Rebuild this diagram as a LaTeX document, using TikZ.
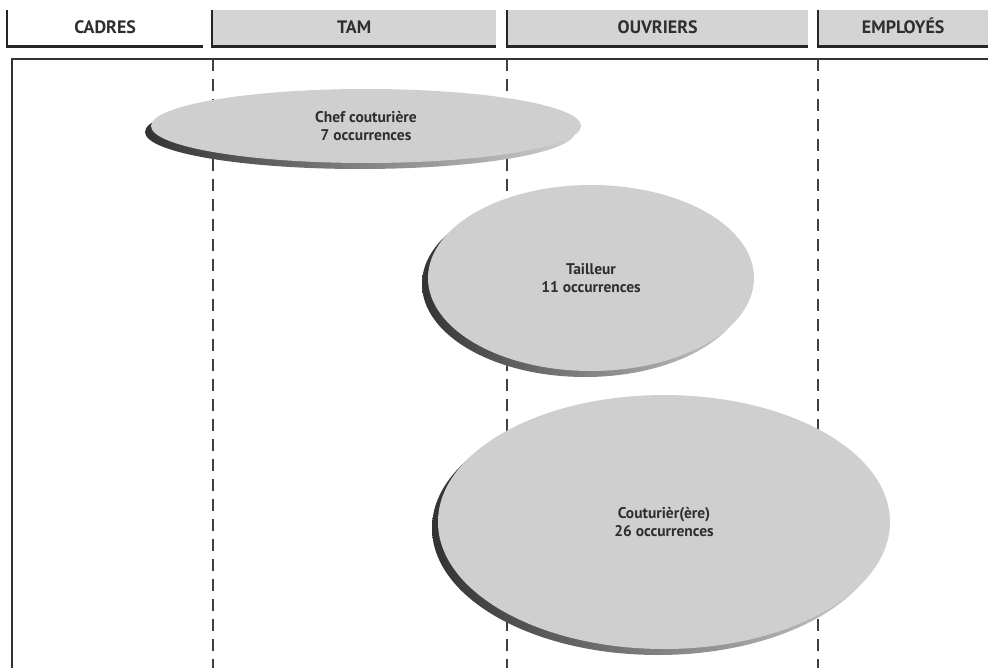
\documentclass[tikz,border=0pt]{standalone}
\usepackage{fontspec}
\setmainfont{PT Sans}
\usetikzlibrary{shapes.geometric,shadows,positioning}
\definecolor{hdrgray}{gray}{0.83}
\definecolor{ovalgray}{gray}{0.81}
\definecolor{txtgray}{gray}{0.18}
\tikzset{
    header/.style={
        anchor=north west,
        minimum height=36pt,
        inner sep=0pt,
        text height=13pt,
        text depth=2pt,
        font=\fontsize{18}{21}\selectfont\bfseries,
        text=txtgray
    },
    hdrfill/.style={
        header,
        fill=hdrgray
    },
    hdrline/.style={
        line width=2.6pt,
        black!85
    },
    oval/.style={
        ellipse,
        fill=ovalgray,
        align=center,
        inner sep=0pt,
        font=\fontsize{15.5}{18}\selectfont\bfseries,
        text=txtgray,
        general shadow={shadow xshift=-6pt, shadow yshift=-6pt,
            left color=black!80, right color=ovalgray}
    },
    frame/.style={
        line width=1.4pt,
        black!80
    },
    sep/.style={
        line width=1.3pt,
        black!75,
        dash pattern=on 12pt off 8pt
    }
}

\begin{document}
\begin{tikzpicture}[x=1pt,y=-1pt]
\useasboundingbox (0,0) rectangle (988,668);

% column headers
\node[header, minimum width=196pt] (cadres) at (7,10) {CADRES};
\node[hdrfill, minimum width=284pt] (tam) at (212,10) {TAM};
\node[hdrfill, minimum width=301pt] (ouvriers) at (507,10) {OUVRIERS};
\node[hdrfill, minimum width=170pt] (employes) at (818,10) {EMPLOYÉS};
\foreach \h in {cadres,tam,ouvriers,employes}
    \draw[hdrline] (\h.north west) -- (\h.south west) -- (\h.south east);

% frame and column separators
\coordinate (topleft) at (12,59);
\coordinate (topright) at (988,59);
\coordinate (botleft) at (12,668);
\draw[frame] (topright) -- (topleft) -- (botleft);
\foreach \x/\n in {213/a,507/b,818/c} {
    \coordinate (sep\n top) at (\x,59);
    \coordinate (sep\n bot) at (\x,668);
    \draw[sep] (sep\n top) -- (sep\n bot);
}

% occupations
\node[oval, minimum width=430pt, minimum height=74pt] (chef) at (366,126)
    {Chef couturière\\7 occurrences};
\node[oval, minimum width=326pt, minimum height=186pt] (tailleur) at (591,278)
    {Tailleur\\11 occurrences};
\node[oval, minimum width=452pt, minimum height=254pt] (couturier) at (664,522)
    {Couturièr(ère)\\26 occurrences};

\end{tikzpicture}
\end{document}
